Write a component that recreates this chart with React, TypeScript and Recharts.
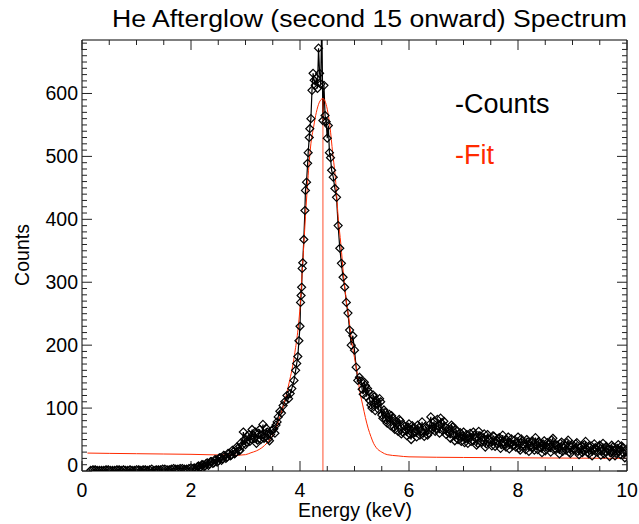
import React from 'react';
import { ComposedChart, Line, XAxis, YAxis, ReferenceLine } from 'recharts';

const LOW_E = [0.16, 0.24, 0.32, 0.4, 0.48, 0.56, 0.64, 0.72, 0.8, 0.88, 0.96, 1.04, 1.12, 1.2, 1.28, 1.36, 1.44, 1.52, 1.6, 1.68, 1.76, 1.84, 1.92, 2.0];
const LOW_C = [1, 2, 1, 1, 2, 1, 2, 1, 1, 2, 1, 2, 2, 1, 3, 2, 2, 3, 2, 4, 3, 4, 3, 5];
const LOW2_E = [0.2, 0.28, 0.36, 0.44, 0.52, 0.6, 0.68, 0.76, 0.84, 0.92, 1.0, 1.08, 1.16, 1.24, 1.32, 1.4, 1.48, 1.56, 1.64, 1.72, 1.8, 1.88, 1.96];
const LOW2_C = [2, 1, 1, 2, 1, 1, 2, 2, 1, 1, 2, 1, 2, 2, 1, 2, 3, 2, 3, 3, 4, 3, 4];

const RISE_E = [
  2.04, 2.08, 2.12, 2.16, 2.2, 2.24, 2.28, 2.32, 2.36, 2.4,
  2.44, 2.48, 2.52, 2.56, 2.6, 2.64, 2.68, 2.72, 2.76, 2.8,
  2.84, 2.88, 2.92, 2.96, 3.0, 3.04, 3.08, 3.12, 3.16, 3.2,
  3.24, 3.28, 3.32, 3.36, 3.4, 3.44, 3.48, 3.52, 3.56, 3.6,
];
const RISE_C = [
  4, 2, 7, 5, 10, 7, 12, 9, 15, 12,
  18, 14, 21, 17, 25, 20, 28, 24, 33, 27,
  38, 32, 45, 62, 42, 55, 47, 66, 52, 44,
  60, 50, 74, 55, 62, 48, 64, 67, 73, 86,
];
const RISE2_E = [
  2.02, 2.06, 2.1, 2.14, 2.18, 2.22, 2.26, 2.3, 2.34, 2.38,
  2.42, 2.46, 2.5, 2.54, 2.58, 2.62, 2.66, 2.7, 2.74, 2.78,
  2.82, 2.86, 2.9, 2.94, 2.98, 3.02, 3.06, 3.1, 3.14, 3.18,
  3.22, 3.26, 3.3, 3.34, 3.38, 3.42, 3.46, 3.5, 3.54, 3.58,
];
const RISE2_C = [
  3, 5, 4, 8, 6, 10, 8, 13, 11, 15,
  13, 18, 16, 21, 19, 24, 22, 28, 25, 31,
  29, 36, 33, 41, 50, 46, 58, 51, 57, 62,
  49, 66, 57, 52, 68, 51, 58, 66, 60, 78,
];

const PEAK_E = [
  3.63, 3.66, 3.69, 3.72, 3.76, 3.79, 3.82, 3.85, 3.89, 3.92,
  3.94, 3.96, 3.98, 4.0, 4.01, 4.02, 4.03, 4.04, 4.05, 4.07,
  4.09, 4.1, 4.12, 4.14, 4.15, 4.17, 4.18, 4.2, 4.22, 4.24,
  4.26, 4.28, 4.3, 4.32, 4.34, 4.36, 4.38, 4.4, 4.42, 4.44,
  4.46, 4.48, 4.5, 4.52, 4.54, 4.56, 4.58, 4.61, 4.64, 4.67,
  4.7, 4.73, 4.76, 4.79, 4.82, 4.85, 4.88, 4.91, 4.94, 4.97,
  5.0, 5.03, 5.06, 5.09,
];
const PEAK_C = [
  95, 92, 104, 110, 120, 115, 123, 131, 144, 160,
  171, 182, 207, 230, 268, 279, 292, 322, 331, 368,
  414, 446, 459, 489, 506, 530, 544, 560, 605, 632,
  621, 613, 624, 608, 672, 632, 615, 720, 557, 613,
  565, 555, 529, 549, 506, 498, 478, 467, 449, 435,
  390, 354, 330, 308, 292, 268, 251, 224, 200, 215,
  192, 165, 144, 149,
];

const TAIL_E = [
  5.12, 5.16, 5.2, 5.24, 5.28, 5.32, 5.36, 5.4, 5.44, 5.48,
  5.52, 5.56, 5.6, 5.64, 5.68, 5.72, 5.76, 5.8, 5.84, 5.88,
  5.92, 5.96, 6.0, 6.04, 6.08, 6.12, 6.16, 6.2, 6.24, 6.28,
  6.32, 6.36, 6.4, 6.44, 6.48, 6.52, 6.56, 6.6, 6.64, 6.68,
  6.72, 6.76, 6.8, 6.84, 6.88, 6.92, 6.96, 7.0, 7.04, 7.08,
  7.12, 7.16, 7.2, 7.24, 7.28, 7.32, 7.36, 7.4, 7.44, 7.48,
  7.52, 7.56, 7.6, 7.64, 7.68, 7.72, 7.76, 7.8, 7.84, 7.88,
  7.92, 7.96, 8.0, 8.04, 8.08, 8.12, 8.16, 8.2, 8.24, 8.28,
  8.32, 8.36, 8.4, 8.44, 8.48, 8.52, 8.56, 8.6, 8.64, 8.68,
  8.72, 8.76, 8.8, 8.84, 8.88, 8.92, 8.96, 9.0, 9.04, 9.08,
  9.12, 9.16, 9.2, 9.24, 9.28, 9.32, 9.36, 9.4, 9.44, 9.48,
  9.52, 9.56, 9.6, 9.64, 9.68, 9.72, 9.76, 9.8, 9.84, 9.88,
  9.92, 9.96, 10.0,
];
const TAIL_C = [
  143, 122, 136, 131, 112, 100, 118, 112, 98, 110,
  84, 93, 76, 90, 88, 70, 79, 63, 80, 62,
  71, 56, 75, 50, 68, 62, 73, 57, 78, 55,
  69, 60, 86, 70, 63, 82, 60, 76, 79, 58,
  67, 52, 70, 48, 63, 55, 47, 62, 51, 44,
  60, 49, 57, 41, 63, 46, 53, 38, 58, 50,
  40, 55, 44, 52, 36, 57, 43, 49, 35, 51,
  42, 38, 54, 33, 47, 40, 50, 31, 45, 38,
  53, 34, 44, 29, 48, 39, 43, 30, 52, 36,
  41, 27, 46, 37, 33, 49, 28, 42, 35, 45,
  26, 40, 33, 47, 30, 38, 24, 43, 34, 39,
  25, 44, 31, 36, 23, 41, 33, 28, 42, 26,
  37, 21, 35,
];
const TAIL2_E = [
  5.14, 5.18, 5.22, 5.26, 5.3, 5.34, 5.38, 5.42, 5.46, 5.5,
  5.54, 5.58, 5.62, 5.66, 5.7, 5.74, 5.78, 5.82, 5.86, 5.9,
  5.94, 5.98, 6.02, 6.06, 6.1, 6.14, 6.18, 6.22, 6.26, 6.3,
  6.34, 6.38, 6.42, 6.46, 6.5, 6.54, 6.58, 6.62, 6.66, 6.7,
  6.74, 6.78, 6.82, 6.86, 6.9, 6.94, 6.98, 7.02, 7.06, 7.1,
  7.14, 7.18, 7.22, 7.26, 7.3, 7.34, 7.38, 7.42, 7.46, 7.5,
  7.54, 7.58, 7.62, 7.66, 7.7, 7.74, 7.78, 7.82, 7.86, 7.9,
  7.94, 7.98, 8.02, 8.06, 8.1, 8.14, 8.18, 8.22, 8.26, 8.3,
  8.34, 8.38, 8.42, 8.46, 8.5, 8.54, 8.58, 8.62, 8.66, 8.7,
  8.74, 8.78, 8.82, 8.86, 8.9, 8.94, 8.98, 9.02, 9.06, 9.1,
  9.14, 9.18, 9.22, 9.26, 9.3, 9.34, 9.38, 9.42, 9.46, 9.5,
  9.54, 9.58, 9.62, 9.66, 9.7, 9.74, 9.78, 9.82, 9.86, 9.9,
  9.94, 9.98,
];
const TAIL2_C = [
  130, 141, 118, 126, 105, 121, 96, 107, 115, 89,
  97, 81, 86, 72, 84, 66, 75, 82, 59, 73,
  64, 70, 58, 72, 61, 54, 69, 63, 60, 71,
  57, 74, 66, 79, 67, 72, 84, 64, 70, 63,
  60, 73, 57, 66, 50, 61, 56, 45, 58, 53,
  47, 62, 52, 44, 56, 49, 59, 43, 51, 46,
  56, 39, 48, 53, 42, 46, 38, 54, 45, 40,
  49, 44, 36, 51, 42, 34, 46, 40, 48, 33,
  40, 47, 37, 43, 32, 45, 38, 49, 34, 41,
  36, 44, 31, 40, 45, 30, 38, 34, 43, 31,
  38, 29, 42, 35, 27, 40, 33, 37, 30, 41,
  32, 27, 39, 34, 29, 38, 24, 36, 31, 40,
  28, 33,
];

// fitted curve
const FIT_E = [0.1, 0.5, 1.0, 1.5, 2.0, 2.5, 2.8, 3.0, 3.1, 3.2, 3.3, 3.4, 3.5, 3.6, 3.7, 3.8, 3.9, 4.0, 4.05, 4.1, 4.15, 4.2, 4.25, 4.3, 4.35, 4.42, 4.5, 4.55, 4.6, 4.65, 4.7, 4.75, 4.8, 4.85, 4.9, 4.95, 5.0, 5.05, 5.1, 5.15, 5.2, 5.25, 5.3, 5.35, 5.4, 5.5, 5.6, 5.8, 6.0, 7.0, 8.0, 9.0, 10.0];
const FIT_C = [28.5, 28, 27.5, 27, 26.5, 25.5, 25, 26, 29, 32, 37, 45, 57, 78, 105, 140, 185, 260, 330, 404, 470, 520, 547, 570, 585, 592, 575, 547, 505, 465, 404, 360, 310, 270, 240, 205, 180, 155, 125, 105, 85, 68, 55, 44, 37, 30, 26, 24, 22.5, 21.5, 21, 20.5, 20];
const FIT_PEAK_E = 4.42;
const FIT_PEAK_C = 592;

const X_TICKS = [0, 0.5, 1, 1.5, 2, 2.5, 3, 3.5, 4, 4.5, 5, 5.5, 6, 6.5, 7, 7.5, 8, 8.5, 9, 9.5, 10];
const X_MAJOR = [0, 2, 4, 6, 8, 10];
const Y_MAJOR = [0, 100, 200, 300, 400, 500, 600];
const Y_TICKS = Array.from({ length: 69 }, (_, i) => i * 10);

const pairs = (es: number[], cs: number[]) => es.map((e, i) => ({ e, c: cs[i] }));
const counts = [
  ...pairs(LOW_E, LOW_C),
  ...pairs(LOW2_E, LOW2_C),
  ...pairs(RISE_E, RISE_C),
  ...pairs(RISE2_E, RISE2_C),
  ...pairs(PEAK_E, PEAK_C),
  ...pairs(TAIL_E, TAIL_C),
  ...pairs(TAIL2_E, TAIL2_C),
].sort((a, b) => a.e - b.e);
const fit = pairs(FIT_E, FIT_C);

const FONT = '"Liberation Sans", Arial, Helvetica, sans-serif';
const RED = '#ff2a00';

const Diamond = (props: any) => {
  const { cx, cy } = props;
  if (cx == null || cy == null) return null;
  const r = 4;
  return (
    <polygon
      points={`${cx},${cy - r} ${cx + r},${cy} ${cx},${cy + r} ${cx - r},${cy}`}
      fill="none"
      stroke="#000"
      strokeWidth={1.2}
    />
  );
};

const XTick = (props: any) => {
  const { x, y, payload, side } = props;
  const v = payload.value;
  const major = X_MAJOR.includes(v);
  const len = major ? 10 : 5;
  const d = side === 'bottom' ? -1 : 1;
  return (
    <g>
      <line x1={x} y1={y} x2={x} y2={y + d * len} stroke="#222" strokeWidth={1} />
      {side === 'bottom' && major && (
        <text x={x} y={y + 26} textAnchor="middle" fontSize={19.5} fontFamily={FONT} fill="#000">
          {v}
        </text>
      )}
    </g>
  );
};

const YTick = (props: any) => {
  const { x, y, payload, side } = props;
  const v = payload.value;
  const major = Y_MAJOR.includes(v);
  const len = major ? 10 : 5;
  const d = side === 'left' ? 1 : -1;
  return (
    <g>
      <line x1={x} y1={y} x2={x + d * len} y2={y} stroke="#222" strokeWidth={1} />
      {side === 'left' && major && (
        <text x={x - 4} y={v === 0 ? y + 1 : y + 7} textAnchor="end" fontSize={19.5} fontFamily={FONT} fill="#000">
          {v}
        </text>
      )}
    </g>
  );
};

export default function App() {
  return (
    <div style={{ position: 'absolute', left: 0, top: 0, width: 639, height: 524, background: '#fff', fontFamily: FONT }}>
      <ComposedChart width={639} height={524} margin={{ top: 39, right: 11, bottom: 52, left: 81 }}>
        <XAxis
          xAxisId="b"
          dataKey="e"
          type="number"
          domain={[0, 10]}
          allowDataOverflow
          ticks={X_TICKS}
          interval={0}
          height={1}
          tickSize={0}
          tickMargin={0}
          tickLine={false}
          axisLine={{ stroke: '#000' }}
          tick={<XTick side="bottom" />}
        />
        <XAxis
          xAxisId="t"
          dataKey="e"
          orientation="top"
          type="number"
          domain={[0, 10]}
          allowDataOverflow
          ticks={X_TICKS}
          interval={0}
          height={1}
          tickSize={0}
          tickMargin={0}
          tickLine={false}
          axisLine={{ stroke: '#000' }}
          tick={<XTick side="top" />}
        />
        <YAxis
          yAxisId="l"
          type="number"
          domain={[0, 685]}
          allowDataOverflow
          ticks={Y_TICKS}
          interval={0}
          width={1}
          tickSize={0}
          tickMargin={0}
          tickLine={false}
          axisLine={{ stroke: '#000' }}
          tick={<YTick side="left" />}
        />
        <YAxis
          yAxisId="r"
          orientation="right"
          type="number"
          domain={[0, 685]}
          allowDataOverflow
          ticks={Y_TICKS}
          interval={0}
          width={1}
          tickSize={0}
          tickMargin={0}
          tickLine={false}
          axisLine={{ stroke: '#000' }}
          tick={<YTick side="right" />}
        />
        <Line
          data={counts}
          xAxisId="b"
          yAxisId="l"
          dataKey="c"
          type="linear"
          stroke="#000"
          strokeWidth={1.2}
          dot={<Diamond />}
          activeDot={false}
          isAnimationActive={false}
        />
        <Line
          data={fit}
          xAxisId="t"
          yAxisId="r"
          dataKey="c"
          type="monotone"
          stroke={RED}
          strokeWidth={1}
          dot={false}
          activeDot={false}
          isAnimationActive={false}
        />
        <ReferenceLine
          xAxisId="b"
          yAxisId="l"
          segment={[{ x: FIT_PEAK_E, y: 0 }, { x: FIT_PEAK_E, y: FIT_PEAK_C }]}
          stroke={RED}
          strokeOpacity={0.55}
          strokeWidth={1.5}
        />
      </ComposedChart>
      <svg width={639} height={524} style={{ position: 'absolute', left: 0, top: 0, pointerEvents: 'none' }}>
        <text x={112} y={27} fontSize={23} fontFamily={FONT} textLength={515} lengthAdjust="spacingAndGlyphs" fill="#000">
          He Afterglow (second 15 onward) Spectrum
        </text>
        <text x={355} y={517} textAnchor="middle" fontSize={19.5} fontFamily={FONT} fill="#000">
          Energy (keV)
        </text>
        <text x={29} y={255} textAnchor="middle" fontSize={19.5} fontFamily={FONT} fill="#000" transform="rotate(-90 29 255)">
          Counts
        </text>
        <text x={455} y={113} fontSize={27} fontFamily={FONT} fill="#000">
          -Counts
        </text>
        <text x={455} y={164} fontSize={27} fontFamily={FONT} fill={RED}>
          -Fit
        </text>
      </svg>
    </div>
  );
}
